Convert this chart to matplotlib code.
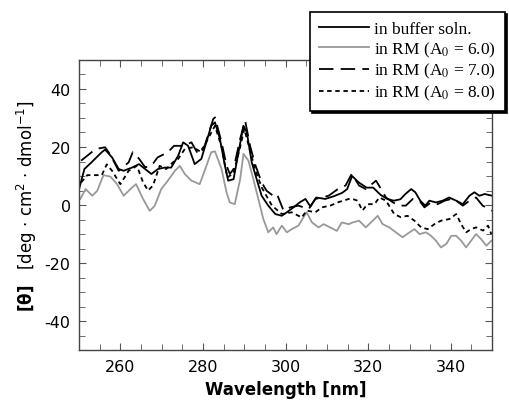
"""
CD spectra (near-UV) of protein in buffer and in reverse micelles (RM).
"""

import matplotlib
matplotlib.use("Agg")
import matplotlib.pyplot as plt
from matplotlib.font_manager import FontProperties
from matplotlib.ticker import MultipleLocator


# in buffer solution (solid black)
WL_BUFFER = [250.0, 251.3, 253.0, 255.5, 256.3, 258.0, 259.6, 260.8, 262.8, 264.5,
             266.0, 267.5, 269.1, 270.7, 272.3, 274.0, 275.2, 276.4, 278.0, 279.6,
             280.8, 282.0, 282.9, 284.1, 285.3, 286.1, 287.4, 288.6, 289.8, 290.6,
             291.8, 293.0, 294.2, 295.8, 297.5, 299.1, 300.3, 301.9, 303.5, 304.8,
             306.0, 307.4, 309.6, 311.6, 313.7, 314.9, 316.1, 317.7, 319.6, 321.2,
             323.0, 324.6, 326.2, 327.8, 329.0, 330.4, 331.4, 332.6, 333.8, 334.8,
             336.4, 338.0, 339.6, 341.3, 342.9, 344.5, 345.7, 346.9, 348.2, 350.0]
CD_BUFFER = [5.5, 12.4, 14.7, 18.2, 19.1, 16.4, 12.4, 11.8, 12.9, 14.1,
             12.4, 10.7, 12.4, 12.9, 12.9, 17.0, 21.6, 20.4, 14.1, 15.9,
             21.6, 27.3, 28.5, 22.8, 13.6, 8.4, 8.9, 18.2, 27.3, 25.1,
             14.7, 8.9, 3.2, -0.2, -3.1, -3.7, -2.5, -0.8, 1.0, 2.1,
             -0.5, 2.6, 2.1, 3.0, 4.2, 5.5, 10.0, 7.8, 6.0, 6.0,
             3.5, 2.1, 1.5, 2.0, 3.8, 5.5, 4.4, 1.5, -0.2, 1.5,
             0.9, 1.5, 2.6, 1.5, 0.3, 3.2, 4.4, 3.2, 3.8, 3.2]

# in RM, A0 = 6.0 (gray)
WL_A6 = [250.3, 251.6, 253.2, 254.4, 255.9, 257.6, 259.2, 260.8, 262.8, 263.8,
         265.5, 267.1, 268.3, 269.9, 271.5, 273.2, 274.4, 275.6, 277.2, 279.2,
         280.4, 282.0, 282.9, 284.5, 285.7, 286.5, 287.7, 289.0, 289.8, 291.0,
         292.2, 293.4, 294.6, 295.8, 297.0, 297.8, 299.1, 300.3, 301.5, 303.1,
         304.3, 305.1, 306.4, 308.0, 309.2, 310.8, 312.4, 313.6, 315.3, 316.2,
         317.8, 319.4, 321.1, 322.3, 323.5, 325.1, 326.7, 328.3, 330.0, 331.2,
         332.4, 334.0, 335.2, 336.4, 337.6, 338.9, 340.1, 341.3, 342.5, 343.7,
         344.9, 346.1, 347.3, 348.6, 349.8]
CD_A6 = [2.1, 5.5, 3.2, 4.9, 10.3, 9.8, 7.2, 3.2, 6.0, 7.2,
         2.1, -2.0, -0.3, 5.5, 8.4, 11.8, 13.5, 10.7, 8.4, 7.2,
         11.8, 18.2, 18.5, 12.4, 4.4, 0.9, 0.3, 8.9, 17.6, 15.3,
         8.9, 2.1, -4.8, -9.4, -7.7, -10.0, -7.1, -9.4, -8.3, -7.1,
         -4.3, -2.5, -6.0, -7.7, -6.6, -7.7, -8.9, -6.0, -6.6, -6.0,
         -5.4, -7.7, -5.4, -3.7, -6.6, -7.7, -9.4, -11.1, -9.4, -8.3,
         -10.0, -9.4, -10.6, -12.3, -14.6, -13.4, -10.6, -10.6, -12.3, -14.6,
         -12.3, -10.0, -11.7, -14.0, -12.3]

# in RM, A0 = 7.0 (long dash)
WL_A7 = [250.5, 252.0, 254.0, 256.3, 257.5, 259.6, 262.0, 263.0, 264.5, 266.0,
         267.5, 269.0, 271.5, 273.0, 275.2, 277.2, 278.8, 280.4, 282.5, 282.9,
         284.5, 285.7, 286.5, 287.4, 289.0, 290.2, 291.4, 292.6, 294.2, 295.4,
         297.0, 297.9, 299.5, 301.1, 303.1, 305.6, 307.2, 308.8, 310.4, 311.6,
         313.2, 314.5, 316.0, 317.8, 319.4, 321.9, 323.1, 324.3, 326.0, 327.5,
         329.1, 330.8, 332.4, 333.6, 335.2, 336.8, 338.5, 340.1, 341.3, 342.9,
         344.5, 346.1, 347.7, 349.4, 350.0]
CD_A7 = [15.3, 17.0, 19.3, 19.9, 17.5, 11.8, 14.7, 18.2, 16.0, 13.0,
         13.5, 16.4, 18.2, 20.4, 20.4, 21.6, 17.6, 20.4, 29.7, 30.2,
         21.6, 13.6, 10.7, 12.4, 22.8, 29.1, 20.4, 14.1, 7.8, 4.9,
         3.2, 3.8, -1.9, -0.8, -0.2, -1.4, 2.1, 2.6, 3.2, 4.4,
         6.1, 6.7, 10.7, 6.7, 5.5, 8.4, 5.5, 2.6, 0.9, -0.2,
         -0.2, 2.1, 1.5, -0.8, 0.9, 0.3, 1.5, 2.1, 1.5, -0.2,
         1.5, 2.6, -0.2, -1.4, -2.0]

# in RM, A0 = 8.0 (short dash)
WL_A8 = [250.5, 252.0, 253.5, 255.5, 256.7, 258.0, 259.2, 260.0, 262.0, 264.0,
         265.5, 266.7, 267.9, 269.5, 271.1, 272.7, 274.0, 275.6, 277.6, 279.6,
         281.2, 282.9, 284.5, 285.9, 287.4, 289.0, 290.0, 292.6, 294.2, 296.7,
         299.1, 301.5, 303.9, 305.1, 307.2, 308.8, 310.8, 312.8, 315.3, 316.2,
         317.4, 318.6, 319.8, 321.5, 322.7, 324.3, 326.3, 327.9, 329.5, 331.2,
         332.8, 334.4, 336.0, 337.6, 339.7, 341.3, 342.5, 343.7, 344.9, 346.1,
         347.8, 349.0, 349.8]
CD_A8 = [7.8, 10.3, 10.3, 10.3, 14.0, 11.8, 9.0, 7.2, 11.8, 13.5,
         7.8, 5.0, 6.7, 13.5, 12.4, 14.7, 15.9, 19.3, 19.9, 18.2,
         22.8, 27.3, 20.0, 9.5, 11.0, 20.0, 26.2, 12.4, 6.1, -0.2,
         -3.1, -2.5, -4.3, -1.9, -2.5, -0.8, -0.2, 1.0, 2.1, 2.1,
         1.5, -1.9, 0.3, 0.3, 2.6, 1.5, -3.1, -4.2, -3.7, -5.4,
         -7.7, -8.3, -6.6, -5.4, -4.8, -3.1, -6.6, -9.4, -8.3, -7.7,
         -8.8, -7.1, -10.0]

LABELS = ["in buffer soln.",
          "in RM (A$_0$ = 6.0)",
          "in RM (A$_0$ = 7.0)",
          "in RM (A$_0$ = 8.0)"]


def main():
    plt.rcParams["axes.unicode_minus"] = False

    fig = plt.figure(figsize=(5.10, 4.06), dpi=100)
    ax = fig.add_axes([0.155, 0.135, 0.81, 0.715])

    ax.plot(WL_BUFFER, CD_BUFFER, color="black", lw=1.3, label=LABELS[0])
    ax.plot(WL_A6, CD_A6, color="#999999", lw=1.3, label=LABELS[1])
    ax.plot(WL_A7, CD_A7, color="black", lw=1.3, dashes=(8, 4), label=LABELS[2])
    ax.plot(WL_A8, CD_A8, color="black", lw=1.3, dashes=(2.5, 2), label=LABELS[3])

    ax.set_xlim(250, 350)
    ax.set_ylim(-50, 50)
    ax.xaxis.set_major_locator(MultipleLocator(20))
    ax.xaxis.set_minor_locator(MultipleLocator(5))
    ax.yaxis.set_major_locator(MultipleLocator(20))
    ax.yaxis.set_minor_locator(MultipleLocator(5))
    ax.tick_params(which="both", direction="in", top=True, right=True,
                   color="#555555", labelsize=11.5, pad=6)
    ax.tick_params(which="major", length=5)
    ax.tick_params(which="minor", length=4)
    for sp in ax.spines.values():
        sp.set_color("#444444")
        sp.set_linewidth(1.0)

    ax.set_xlabel("Wavelength [nm]", fontsize=12, fontweight="bold", labelpad=5)
    ylab_font = FontProperties(family="DejaVu Sans", size=12, math_fontfamily="dejavusans")
    ax.set_ylabel("$\\mathbf{[\\theta]}$   [deg $\\cdot$ cm$^2$ $\\cdot$ dmol$^{-1}$]",
                  fontproperties=ylab_font, labelpad=4)

    leg_font = FontProperties(family="Liberation Serif", size=12.5, math_fontfamily="stix")
    leg = fig.legend(loc="upper right", bbox_to_anchor=(0.99, 0.968),
                     frameon=True, fancybox=False, edgecolor="black",
                     framealpha=1,
                     shadow={"color": "black", "alpha": 1, "ox": 1.6, "oy": -1.6},
                     prop=leg_font,
                     handlelength=2.9, handletextpad=0.3, labelspacing=0.15,
                     borderpad=0.5, borderaxespad=0)
    leg.get_frame().set_linewidth(1.2)

    fig.savefig("out.png", dpi=100)
    plt.close(fig)


if __name__ == "__main__":
    main()
